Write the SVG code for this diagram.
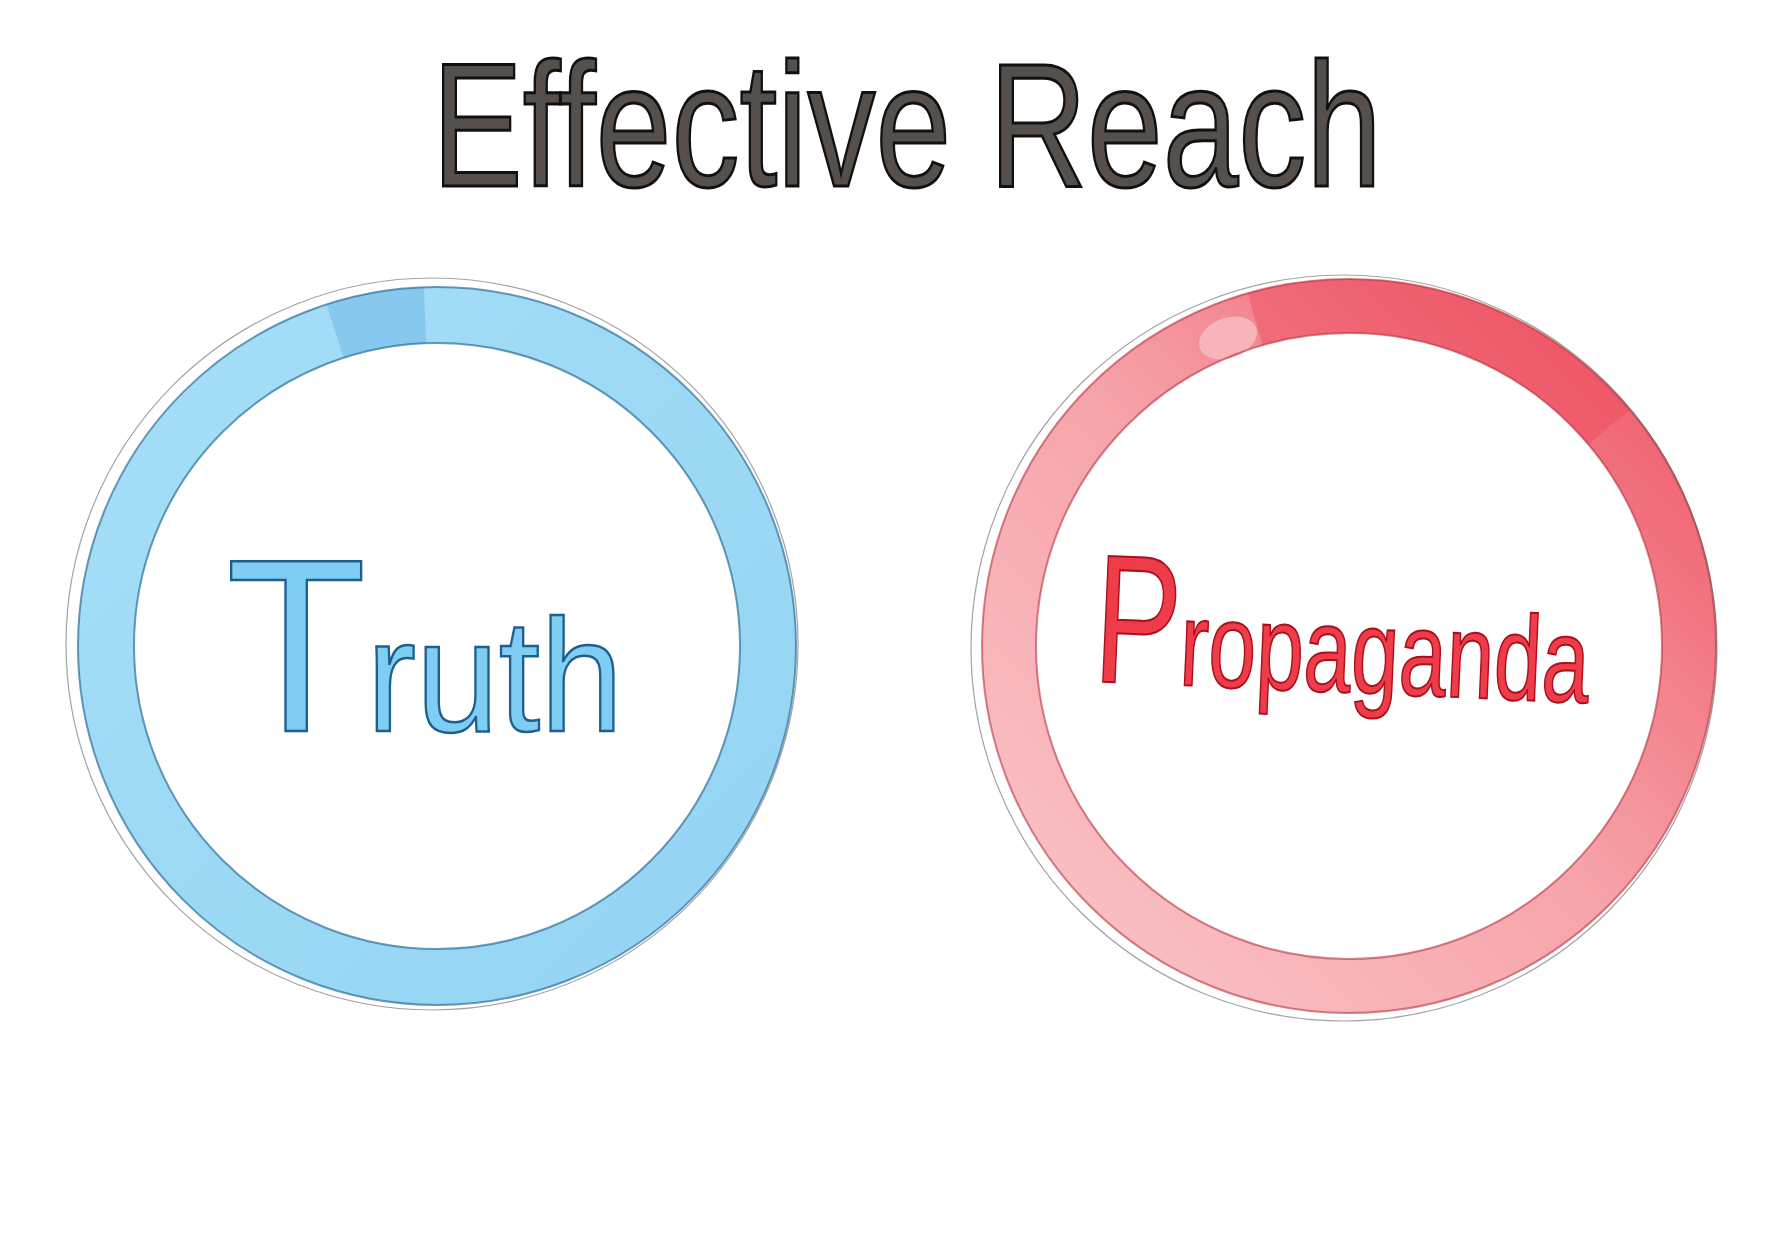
<svg xmlns="http://www.w3.org/2000/svg" width="1792" height="1252" viewBox="0 0 1792 1252">
<defs>
<linearGradient id="redGrad" x1="0" y1="1" x2="1" y2="0">
<stop offset="0" stop-color="#fac6c9"/>
<stop offset="0.5" stop-color="#f6a3aa"/>
<stop offset="1" stop-color="#ee5363"/>
</linearGradient>
<linearGradient id="blueGrad" x1="0" y1="0" x2="1" y2="1">
<stop offset="0" stop-color="#a6def7"/>
<stop offset="1" stop-color="#93d4f3"/>
</linearGradient>
</defs>
<style>
.title{font-family:"Liberation Sans",Arial,sans-serif;font-size:176px;fill:#55504b;stroke:#111;stroke-width:3}
.blue-ring{fill:none;stroke:url(#blueGrad);stroke-width:56}
.blue-edge{fill:none;stroke:#2d6f99;stroke-width:2;opacity:0.7}
.red-ring{fill:none;stroke:url(#redGrad);stroke-width:54}
.red-edge{fill:none;stroke:#b8323e;stroke-width:2;opacity:0.6}
.sketch{fill:none;stroke:#333;stroke-width:1.2;opacity:0.45}
.truth{font-family:"Liberation Sans",Arial,sans-serif;fill:#7fcdf2;stroke:#1f5f8f;stroke-width:2.5}
.prop{font-family:"Liberation Sans",Arial,sans-serif;fill:#ef3c4a;stroke:#a8101c;stroke-width:2}
</style>
<rect width="1792" height="1252" fill="#ffffff"/>
<g id="title">
<text class="title" x="432" y="186" textLength="950" lengthAdjust="spacingAndGlyphs">Effective Reach</text>
</g>
<g id="truth">
<circle class="blue-ring" cx="437" cy="646" r="331"/>
<path d="M335 331 A331 331 0 0 1 425 315" fill="none" stroke="#86c8ee" stroke-width="56"/>
<circle class="blue-edge" cx="437" cy="646" r="359"/>
<circle class="blue-edge" cx="437" cy="646" r="303"/>
<circle class="sketch" cx="432" cy="644" r="366"/>
<text class="truth" x="226" y="731" textLength="397" lengthAdjust="spacingAndGlyphs"><tspan font-size="247">T</tspan><tspan font-size="160">ruth</tspan></text>
</g>
<g id="propaganda">
<circle class="red-ring" cx="1349" cy="646" r="340"/>
<path d="M1255 319 A340 340 0 0 1 1609 427" fill="none" stroke="#ee4a5a" stroke-width="54" opacity="0.45"/>
<ellipse cx="1228" cy="338" rx="30" ry="20" fill="#f7b4ba" transform="rotate(-20 1228 338)"/>
<circle class="red-edge" cx="1349" cy="646" r="367"/>
<circle class="red-edge" cx="1349" cy="646" r="313"/>
<circle class="sketch" cx="1344" cy="648" r="373"/>
<text class="prop" x="1092" y="692" textLength="496" lengthAdjust="spacingAndGlyphs" transform="rotate(2.5 1340 692)"><tspan font-size="183">P</tspan><tspan font-size="121">ropaganda</tspan></text>
</g>
<g id="connectors"/>
</svg>
